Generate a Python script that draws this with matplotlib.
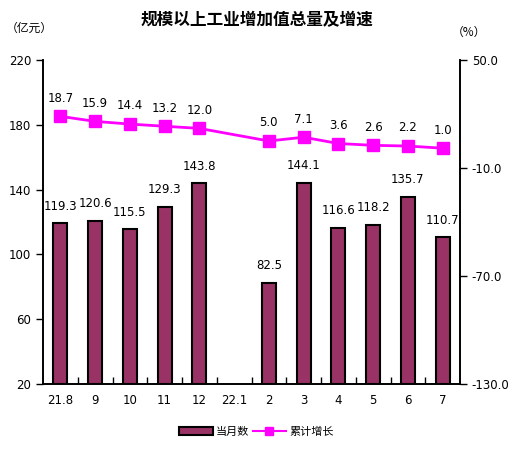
import numpy as np
import matplotlib.pyplot as plt
from matplotlib.lines import Line2D
from matplotlib.patches import Patch

plt.rcParams['font.family'] = ['DejaVu Sans', 'Noto Sans CJK SC']

months = ["21.8", "9", "10", "11", "12", "22.1", "2", "3", "4", "5", "6", "7"]
monthly = [119.3, 120.6, 115.5, 129.3, 143.8, None, 82.5, 144.1, 116.6, 118.2, 135.7, 110.7]
growth = [18.7, 15.9, 14.4, 13.2, 12.0, None, 5.0, 7.1, 3.6, 2.6, 2.2, 1.0]

bar_color = "#993366"
line_color = "#FF00FF"

fig = plt.figure(figsize=(5.13, 4.49), dpi=100)
ax = fig.add_axes([43 / 513, 1 - 384 / 449, 417 / 513, 324 / 449])
ax2 = ax.twinx()

x = np.arange(len(months))
bx = [i for i, v in zip(x, monthly) if v is not None]
bv = [v for v in monthly if v is not None]
ax.bar(bx, [v - 20 for v in bv], bottom=20, width=0.4, color=bar_color,
       edgecolor="black", linewidth=1.5, zorder=2)
for xi, v in zip(bx, bv):
    ax.text(xi, v + 6.5, "%.1f" % v, ha="center", va="bottom", fontsize=8.5)

lx = [i for i, v in zip(x, growth) if v is not None]
lv = [v for v in growth if v is not None]
ax2.plot(lx, lv, color=line_color, linewidth=2, marker="s", markersize=8, zorder=3)
for xi, v in zip(lx, lv):
    ax2.text(xi, v + 6.5, "%.1f" % v, ha="center", va="bottom", fontsize=8.5)

ax.set_xlim(-0.5, len(months) - 0.5)
ax.set_ylim(20, 220)
ax.set_yticks([20, 60, 100, 140, 180, 220])
ax2.set_ylim(-130, 50)
ax2.set_yticks([-130, -70, -10, 50])
ax2.set_yticklabels(["-130.0", "-70.0", "-10.0", "50.0"])

ax.set_xticks(x)
ax.set_xticklabels(months)
ax.set_xticks(np.arange(0.5, len(months) - 0.5, 1), minor=True)
ax.tick_params(axis="x", which="major", length=0, labelsize=8.5, pad=7)
ax.tick_params(axis="x", which="minor", length=5, direction="in", width=1)
ax.tick_params(axis="y", length=5, width=1, labelsize=8.5)
ax2.tick_params(axis="y", length=5, width=1, labelsize=8.5)

for a in (ax, ax2):
    a.spines["top"].set_visible(False)
    for s in ("left", "right", "bottom"):
        a.spines[s].set_linewidth(1.2)

fig.text(0.5, 1 - 20 / 449, "规模以上工业增加值总量及增速", ha="center", va="center",
         fontsize=12, fontweight="bold", family="Noto Sans CJK SC")
fig.text(6 / 513, 1 - 28 / 449, "（亿元）", ha="left", va="center", fontsize=8.5,
         family="Noto Sans CJK SC")
fig.text(469 / 513, 1 - 32 / 449, "（%）", ha="center", va="center", fontsize=8.5,
         family="Noto Sans CJK SC")

handles = [Patch(facecolor=bar_color, edgecolor="black", linewidth=1.5),
           Line2D([], [], color=line_color, linewidth=1.5, marker="s", markersize=6)]
fig.legend(handles, ["当月数", "累计增长"], loc="center", bbox_to_anchor=(0.5, 1 - 432 / 449),
           ncol=2, frameon=False, fontsize=8, handlelength=3, columnspacing=0.3,
           handletextpad=0.3, prop={"family": "Noto Sans CJK SC", "size": 8})

fig.savefig("out.png", dpi=100)
